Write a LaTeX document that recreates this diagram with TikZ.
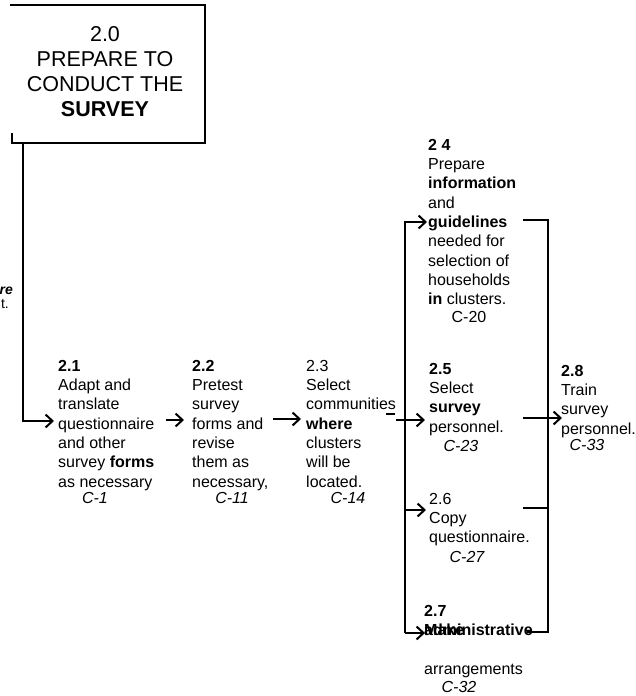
\documentclass[tikz,border=0pt]{standalone}
\usepackage{fontspec}
\setmainfont{Liberation Sans}
\usetikzlibrary{arrows.meta}
\begin{document}
\begin{tikzpicture}[x=1pt,y=-1pt,
  body/.style={anchor=north west,inner sep=0pt,align=left,font=\fontsize{16}{19.3}\selectfont},
  cref/.style={inner sep=0pt,font=\fontsize{16}{19.3}\selectfont\itshape},
  ln/.style={line width=1.8pt},
  arr/.style={line width=1.8pt,-{Straight Barb[length=7pt,width=13pt,line width=2pt]}}]
\useasboundingbox (0,0) rectangle (636,696);

% header box
\node[inner sep=0pt,anchor=north,align=center,font=\fontsize{21.5}{25}\selectfont] (t20) at (105,26)
  {2.0\\PREPARE TO\\CONDUCT THE\\\textbf{SURVEY}};
\draw[ln] (10,5) -- (205,5) -- (205,143) -- (12,143) -- (12,133);

% cut-off text at left
\node[anchor=base east,inner sep=0pt,font=\fontsize{14}{16}\selectfont\bfseries\itshape] (lre) at (13,294) {re};
\node[anchor=base east,inner sep=0pt,font=\fontsize{14}{16}\selectfont] (lt) at (9,308) {t.};

% blocks
\node[body] (n21) at (58,360) {\textbf{2.1}\\Adapt and\\translate\\questionnaire\\and other\\survey \textbf{forms}\\as necessary};
\node[body] (n22) at (192,360) {\textbf{2.2}\\Pretest\\survey\\forms and\\revise\\them as\\necessary,};
\node[body] (n23) at (306,360) {2.3\\Select\\communities\\\textbf{where}\\clusters\\will be\\located.};
\node[body] (n24) at (428,139) {\textbf{2 4}\\Prepare\\\textbf{information}\\and\\\textbf{guidelines}\\needed for\\selection of\\households\\\textbf{in} clusters.};
\node[body] (n25) at (429,363) {\textbf{2.5}\\Select\\\textbf{survey}\\personnel.};
\node[body] (n26) at (429,493) {2.6\\Copy\\questionnaire.};
\node[body] (n27) at (424,605) {\textbf{2.7}\\\rlap{\textbf{Make}}\textbf{administrative}\\[19.3pt]arrangements};
\node[body] (n28) at (561,365) {\textbf{2.8}\\Train\\survey\\personnel.};

% references
\node[cref] (c1) at (95,498) {C-1};
\node[cref] (c11) at (232,498) {C-11};
\node[cref] (c14) at (348,498) {C-14};
\node[inner sep=0pt,font=\fontsize{16}{19.3}\selectfont] (c20) at (469,317) {C-20};
\node[cref] (c23) at (461,446) {C-23};
\node[cref] (c27) at (467,557) {C-27};
\node[cref] (c32) at (459,687) {C-32};
\node[cref] (c33) at (587,445) {C-33};

% connector coordinates
\coordinate (s20) at (23,143);
\coordinate (e21) at (54,421);
\coordinate (s21) at (166,420);
\coordinate (e22) at (184,420);
\coordinate (s22) at (273,419);
\coordinate (e23) at (301,419);
\coordinate (d1) at (386,414);
\coordinate (d2) at (395,414);
\coordinate (s23) at (396,420);
\coordinate (e25) at (425,420);
\coordinate (lbt) at (405,222);
\coordinate (lbb) at (405,633);
\coordinate (e24) at (427,222);
\coordinate (lb6) at (405,510);
\coordinate (e26) at (426,510);
\coordinate (e27) at (425,633);
\coordinate (rt0) at (523,220);
\coordinate (rbt) at (548,220);
\coordinate (rbb) at (548,632);
\coordinate (rb0) at (527,632);
\coordinate (r60) at (523,508);
\coordinate (r6) at (548,508);
\coordinate (s28) at (523,418);
\coordinate (e28) at (562,418);

% connectors
\draw[arr] (s20) |- (e21);
\draw[arr] (s21) -- (e22);
\draw[arr] (s22) -- (e23);
\draw[ln] (d1) -- (d2);
\draw[arr] (s23) -- (e25);
\draw[arr] (lbb) -- (lbt) -- (e24);
\draw[arr] (lb6) -- (e26);
\draw[arr] (lbb) -- (e27);
\draw[ln] (rt0) -- (rbt) -- (rbb) -- (rb0);
\draw[ln] (r60) -- (r6);
\draw[arr] (s28) -- (e28);
\end{tikzpicture}
\end{document}
